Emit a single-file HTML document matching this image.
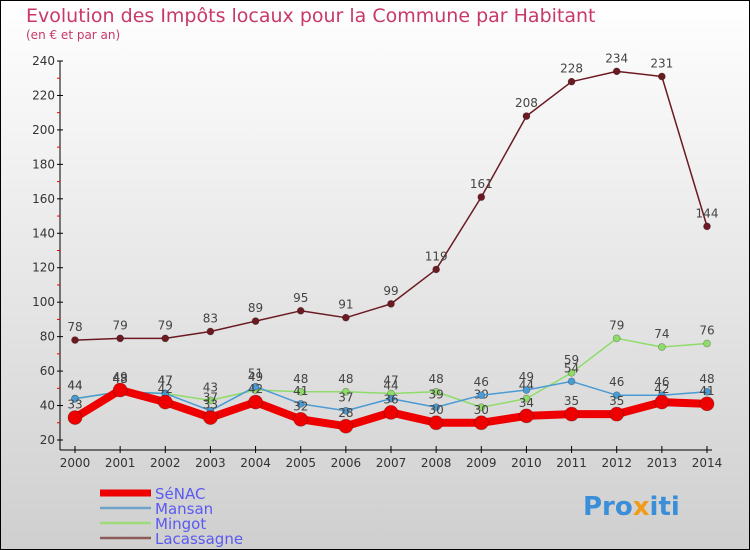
<!DOCTYPE html>
<html><head><meta charset="utf-8"><style>
body{margin:0}
svg{display:block;font-family:"DejaVu Sans","Liberation Sans",sans-serif}
</style></head><body>
<svg width="750" height="550" viewBox="0 0 750 550">
<defs><linearGradient id="bg" x1="0" y1="0" x2="0" y2="1"><stop offset="0" stop-color="#ffffff"/><stop offset="1" stop-color="#cfcfcf"/></linearGradient></defs>
<rect x="0.5" y="0.5" width="749" height="549" fill="url(#bg)" stroke="#000"/>
<text x="26" y="22" font-size="19" fill="#c8386a">Evolution des Impôts locaux pour la Commune par Habitant</text>
<text x="26" y="39" font-size="12" fill="#c8386a">(en € et par an)</text>
<g id="axes"></g>
<g id="series"></g>
<g id="legend"></g>
<text x="583" y="515" font-size="26" font-weight="bold" fill="#3a8fd8">Pro<tspan fill="#f29a1a">x</tspan>iti</text>
</svg>
<script>
const years=[2000,2001,2002,2003,2004,2005,2006,2007,2008,2009,2010,2011,2012,2013,2014];
const yTicks=[20,40,60,80,100,120,140,160,180,200,220,240];
const senac=[33,49,42,33,42,32,28,36,30,30,34,35,35,42,41];
const mansan=[44,48,47,37,51,41,37,44,39,46,49,54,46,46,48];
const mingot=[44,48,47,43,49,48,48,47,48,39,44,59,79,74,76];
const lacassagne=[78,79,79,83,89,95,91,99,119,161,208,228,234,231,144];
const NS='http://www.w3.org/2000/svg';
const X=i=>75+i*(707-75)/14;
const Y=v=>440-(v-20)*(440-61)/220;
function mk(t,a,p){const e=document.createElementNS(NS,t);for(const k in a)e.setAttribute(k,a[k]);p.appendChild(e);return e;}
const ax=document.getElementById('axes');
mk('line',{x1:60,y1:61,x2:60,y2:450,stroke:'#000'},ax);
mk('line',{x1:60,y1:450,x2:712,y2:450,stroke:'#000'},ax);
yTicks.forEach(v=>{
  mk('line',{x1:57,y1:Y(v),x2:63,y2:Y(v),stroke:'#000'},ax);
  if(v<240)mk('line',{x1:57,y1:Y(v+10),x2:60,y2:Y(v+10),stroke:'#e00'},ax);
  const t=mk('text',{x:55,y:Y(v)+4,'font-size':12,fill:'#333','text-anchor':'end'},ax);t.textContent=v;
  
  
});
years.forEach((y,i)=>{
  mk('line',{x1:X(i),y1:446,x2:X(i),y2:453,stroke:'#000'},ax);
  const t=mk('text',{x:X(i),y:467,'font-size':12,fill:'#333','text-anchor':'middle'},ax);t.textContent=y;
  
  
});
const sg=document.getElementById('series');
const defs=[
 {d:lacassagne,c:'#6b1a22',w:1.5,r:3.5,name:'lacassagne'},
 {d:mingot,c:'#8fdc6a',w:1.5,r:3.5,name:'mingot'},
 {d:mansan,c:'#4a9bd4',w:1.5,r:3.5,name:'mansan'},
 {d:senac,c:'#ee0000',w:8,r:7,name:'senac'}];
defs.forEach(s=>{
  const g=mk('g',{},sg);
  
  
  const pts=s.d.map((v,i)=>X(i)+','+Y(v)).join(' ');
  const pl=mk('polyline',{points:pts,fill:'none',stroke:s.c,'stroke-width':s.w,'stroke-linejoin':'round'},g);
  
  
  s.d.forEach((v,i)=>{
    const c=mk('circle',{cx:X(i),cy:Y(v),r:s.r,fill:s.c,stroke:'rgba(0,0,0,0.3)','stroke-width':0.7},g);
    
    
    const t=mk('text',{x:X(i),y:Y(v)-9,'font-size':12,fill:'#444','text-anchor':'middle'},g);t.textContent=v;
    
    
  });
});
const lg=document.getElementById('legend');
[['SéNAC','#ee0000',7],['Mansan','#6fa4c8',2.5],['Mingot','#9edc7a',2.5],['Lacassagne','#8b5a5a',2.5]].forEach((e,i)=>{
  const y=493+i*15;
  const g=mk('g',{},lg);
  
  
  mk('line',{x1:100,y1:y,x2:151,y2:y,stroke:e[1],'stroke-width':e[2]},g);
  const t=mk('text',{x:155,y:y+6,'font-size':15,fill:'#5a5af0'},g);t.textContent=e[0];
});
</script>
</body></html>
